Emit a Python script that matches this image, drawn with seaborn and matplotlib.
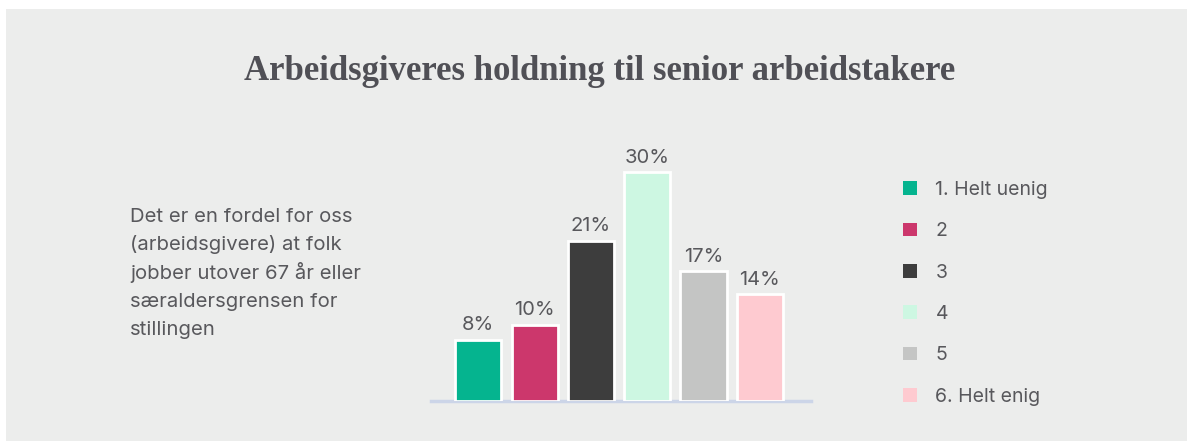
import matplotlib
matplotlib.use("Agg")
import matplotlib.pyplot as plt
from matplotlib.patches import Rectangle
import seaborn as sns
import pandas as pd

categories = ["1. Helt uenig", "2", "3", "4", "5", "6. Helt enig"]
values = [8, 10, 21, 30, 17, 14]
colors = ["#05B48F", "#CC376C", "#3D3D3D", "#CDF7E2", "#C4C5C4", "#FECAD0"]
title = "Arbeidsgiveres holdning til senior arbeidstakere"
question_lines = ["Det er en fordel for oss", "(arbeidsgivere) at folk",
                  "jobber utover 67 år eller", "særaldersgrensen for", "stillingen"]

sns.set_theme(style="white")
plt.rcParams["font.family"] = ["Inter", "DejaVu Sans"]

TEXT = "#58585C"
BG = "#ECEDEC"

W, H = 1187, 441
fig = plt.figure(figsize=(W / 100, H / 100), dpi=100, facecolor="white")
fig.patches.append(Rectangle((6 / W, 0), 1 - 6 / W, 1 - 9 / H, transform=fig.transFigure,
                             facecolor=BG, edgecolor="none", zorder=-10))

ax = fig.add_axes([431 / W, 1 - 401 / H, (811 - 431) / W, 0.5537])
ax.set_facecolor("none")
ax.set_zorder(2)

df = pd.DataFrame({"cat": categories, "val": values})
sns.barplot(data=df, x="cat", y="val", hue="cat", palette=colors, order=categories,
            hue_order=categories, dodge=False, width=0.82, edgecolor="white",
            linewidth=2, saturation=1, legend=True, ax=ax)

for c in ax.containers:
    ax.bar_label(c, fmt="%d%%", padding=4, fontsize=14.5, color=TEXT)

ax.set_xlim(-0.84, 5.91)
ax.set_ylim(0, 32)
ax.set_xlabel("")
ax.set_ylabel("")
ax.set_xticks([])
ax.set_yticks([])
for s in ["top", "right", "left"]:
    ax.spines[s].set_visible(False)
ax.spines["bottom"].set_color("#CCD5E8")
ax.spines["bottom"].set_linewidth(2.5)
ax.spines["bottom"].set_zorder(0)

handles, labels = ax.get_legend_handles_labels()
ax.get_legend().remove()
for h in handles:
    h.set_edgecolor("none")
    h.set_linewidth(0)
leg = fig.legend(handles, labels, loc="upper left", bbox_to_anchor=(903 / W, 1 - 181 / H),
                 frameon=False, fontsize=14, handlelength=0.72, handleheight=0.72,
                 handletextpad=0.95, labelspacing=1.2, borderaxespad=0, borderpad=0)
for t in leg.get_texts():
    t.set_color(TEXT)

for i, line in enumerate(question_lines):
    fig.text(130 / W, 1 - (222 + 28.3 * i) / H, line, ha="left", va="baseline",
             fontsize=14.6, color=TEXT)

fig.text(600 / W, 1 - 72 / H, title, ha="center", va="center", fontsize=25,
         fontweight="bold", family="Liberation Serif", color="#505056")

fig.savefig("out.png", dpi=100, facecolor=fig.get_facecolor())
